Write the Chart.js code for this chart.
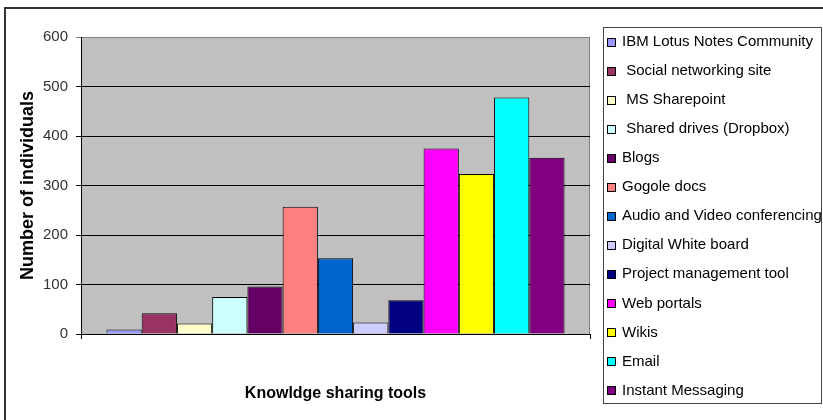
<!DOCTYPE html>
<html>
<head>
<meta charset="utf-8">
<script src="https://cdn.jsdelivr.net/npm/chart.js@4/dist/chart.umd.min.js"></script>
<style>
  body { margin: 0; background: #fff; }
  canvas { display: block; }
</style>
</head>
<body>
<canvas id="chart" width="823" height="420"></canvas>
<script>
// data
const tools = [
  'IBM Lotus Notes Community',
  ' Social networking site',
  ' MS Sharepoint',
  ' Shared drives (Dropbox)',
  'Blogs',
  'Gogole docs',
  'Audio and Video conferencing',
  'Digital White board',
  'Project management tool',
  'Web portals',
  'Wikis',
  'Email',
  'Instant Messaging'
];
const individuals = [9, 42, 21, 75, 96, 257, 153, 23, 68, 375, 323, 478, 356];
const yTicks = [0, 100, 200, 300, 400, 500, 600];
const category = ['Knowldge sharing tools'];

const colors = [
  '#9999FF', '#993366', '#FFFFCC', '#CCFFFF', '#660066', '#FF8080', '#0066CC',
  '#CCCCFF', '#000080', '#FF00FF', '#FFFF00', '#00FFFF', '#800080'
];

const datasets = tools.map((name, i) => ({
  label: name,
  data: [individuals[i]],
  backgroundColor: colors[i],
  borderColor: '#000',
  borderWidth: 1,
  categoryPercentage: 0.9,
  barPercentage: 1.0
}));

// grey plot area + outer frame
const plotBg = {
  id: 'plotBg',
  beforeDraw(chart) {
    const {ctx, chartArea: a} = chart;
    ctx.save();
    ctx.strokeStyle = '#333';
    ctx.lineWidth = 2;
    ctx.strokeRect(5, 8, 840, 440);
    ctx.fillStyle = '#C0C0C0';
    ctx.fillRect(a.left, a.top, a.right - a.left, a.bottom - a.top);
    ctx.strokeStyle = '#808080';
    ctx.lineWidth = 1;
    ctx.strokeRect(a.left + 0.5, a.top + 0.5, a.right - a.left - 1, a.bottom - a.top);
    ctx.restore();
  }
};

// boxed legend on the right, excel style
const boxLegend = {
  id: 'boxLegend',
  afterDraw(chart) {
    const {ctx} = chart;
    ctx.save();
    ctx.strokeStyle = '#444';
    ctx.lineWidth = 1;
    ctx.strokeRect(603.5, 27.5, 218, 376);
    ctx.font = '15px "Liberation Sans", Arial, sans-serif';
    ctx.textBaseline = 'middle';
    chart.data.datasets.forEach((ds, i) => {
      const y = 42 + i * 29.04;
      ctx.fillStyle = ds.backgroundColor;
      ctx.fillRect(607, Math.round(y) - 4, 8, 8);
      ctx.strokeStyle = '#000';
      ctx.strokeRect(607.5, Math.round(y) - 3.5, 8, 8);
      ctx.fillStyle = '#000';
      ctx.fillText(ds.label, 622, y);
    });
    ctx.restore();
  }
};

new Chart(document.getElementById('chart'), {
  type: 'bar',
  data: { labels: category, datasets },
  plugins: [plotBg, boxLegend],
  options: {
    responsive: false,
    animation: false,
    layout: { padding: { left: 0, right: 233, top: 37, bottom: 0 } },
    plugins: { legend: { display: false }, tooltip: { enabled: false } },
    scales: {
      x: {
        afterFit: (s) => { s.height = 86; },
        ticks: { display: false },
        grid: { drawOnChartArea: false, drawTicks: true, tickLength: 5, color: '#000' },
        border: { color: '#000', width: 1 },
        title: {
          display: true,
          text: category[0],
          color: '#000',
          font: { family: '"Liberation Sans", Arial, sans-serif', size: 16, weight: 'bold' },
          padding: { top: 0, bottom: 17 }
        }
      },
      y: {
        min: 0,
        max: 600,
        afterFit: (s) => { s.width = 81; },
        afterBuildTicks: (s) => { s.ticks = yTicks.map(v => ({ value: v })); },
        ticks: {
          color: '#333',
          padding: 8,
          font: { family: '"Liberation Sans", Arial, sans-serif', size: 15 }
        },
        grid: {
          tickLength: 5,
          color: (c) => c.tick && c.tick.value === 600 ? '#808080' : '#000'
        },
        border: { color: '#000', width: 1 },
        title: {
          display: true,
          text: 'Number of individuals',
          color: '#000',
          font: { family: '"Liberation Sans", Arial, sans-serif', size: 18, weight: 'bold' },
          padding: { top: 17, bottom: 0 }
        }
      }
    }
  }
});
</script>
</body>
</html>
